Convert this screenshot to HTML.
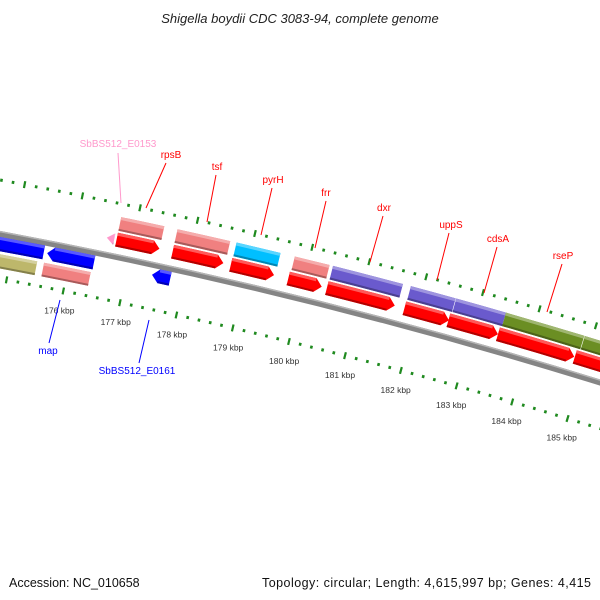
<!DOCTYPE html>
<html><head><meta charset="utf-8"><style>
html,body{margin:0;padding:0;background:#fff;}
svg{display:block;font-family:"Liberation Sans","DejaVu Sans",sans-serif;}
</style></head><body>
<svg id="map" width="600" height="600" viewBox="0 0 600 600" xmlns="http://www.w3.org/2000/svg">
<rect width="600" height="600" fill="#fff"/>
<text x="300" y="23" text-anchor="middle" font-size="13" font-style="italic" fill="#222">Shigella boydii CDC 3083-94, complete genome</text>
<text x="9" y="587" font-size="12.5" fill="#111">Accession: NC_010658</text>
<text x="591" y="587" text-anchor="end" font-size="12.5" fill="#111" textLength="329">Topology: circular; Length: 4,615,997 bp; Genes: 4,415</text>
<g id="ticks"></g>
<g id="backbone"></g>
<g id="features"></g>
<g id="labels"></g>
</svg>
<script>
// data (kbp)
const featStart = [176.72,177.70,178.72,179.73,180.41,181.78,182.56,183.44,184.81, 176.72,177.70,178.73,179.75,180.42,181.79,182.59,183.47,184.87, 176.55, 174.6,175.60,177.44, 174.5,175.58];
const featEnd   = [177.47,178.59,179.48,180.32,181.61,182.57,183.44,184.80,186.2, 177.47,178.62,179.50,180.36,181.65,182.58,183.47,184.86,186.2, 176.68, 175.54,176.42,177.76, 175.46,176.40];
const featTrack = ['r','r','r','r','r','r','r','r','r', 'p','p','p','p','p','p','p','p','p', 'r', 'b','b','b', 'k','k'];
const featColor = ['#ff0000','#ff0000','#ff0000','#ff0000','#ff0000','#ff0000','#ff0000','#ff0000','#ff0000',
 '#f08080','#f08080','#00bfff','#f08080','#6a5acd','#6a5acd','#6a5acd','#6b8e23','#6b8e23','#ff99cc',
 '#0000ff','#0000ff','#0000ff','#bdb76b','#f08080'];
const featDir   = [1,1,1,1,1,1,1,1,1, 0,0,0,0,0,0,0,0,0, -1, 0,-1,-1, 0,0];
const tickMajors = [174,175,176,177,178,179,180,181,182,183,184,185,186];
const tickLabels = ['176 kbp','177 kbp','178 kbp','179 kbp','180 kbp','181 kbp','182 kbp','183 kbp','184 kbp','185 kbp'];
const tickLabelPos = [176,177,178,179,180,181,182,183,184,185];
const labelNames = ['SbBS512_E0153','rpsB','tsf','pyrH','frr','dxr','uppS','cdsA','rseP','map','SbBS512_E0161'];
const labelColors = ['#ff99cc','#ff0000','#ff0000','#ff0000','#ff0000','#ff0000','#ff0000','#ff0000','#ff0000','#0000ff','#0000ff'];

// geometry
const CX=-972, CY=5444, R=5300;
const PHI176 = -78.64*Math.PI/180, DPHI = 0.0110;
const trackOff = {r:17, p:33, b:-10, k:-27};
const NS='http://www.w3.org/2000/svg';
function ang(s){return PHI176+(s-176)*DPHI;}
function P(s,r){const a=ang(s);return [CX+r*Math.cos(a),CY+r*Math.sin(a)];}
function f(p){return p[0].toFixed(2)+' '+p[1].toFixed(2);}
function mk(tag,attrs,parent){const e=document.createElementNS(NS,tag);for(const k in attrs)e.setAttribute(k,attrs[k]);parent.appendChild(e);return e;}
function arcBand(s1,s2,r1,r2){
  return 'M'+f(P(s1,r1))+' A'+r1+' '+r1+' 0 0 1 '+f(P(s2,r1))+' L'+f(P(s2,r2))+' A'+r2+' '+r2+' 0 0 0 '+f(P(s1,r2))+' Z';
}
function shape(s1,s2,rc,w,dir){
  const r1=rc+w/2,r2=rc-w/2,h=0.12;
  if(dir===1){const b=Math.max(s1,s2-h);
    return 'M'+f(P(s1,r1))+' A'+r1+' '+r1+' 0 0 1 '+f(P(b,r1))+' L'+f(P(s2,rc))+' L'+f(P(b,r2))+' A'+r2+' '+r2+' 0 0 0 '+f(P(s1,r2))+' Z';}
  if(dir===-1){const b=Math.min(s2,s1+h);
    return 'M'+f(P(s1,rc))+' L'+f(P(b,r1))+' A'+r1+' '+r1+' 0 0 1 '+f(P(s2,r1))+' L'+f(P(s2,r2))+' A'+r2+' '+r2+' 0 0 0 '+f(P(b,r2))+' Z';}
  return arcBand(s1,s2,r1,r2);
}
function shade(hex,k){const n=parseInt(hex.slice(1),16);let r=n>>16,g=(n>>8)&255,b=n&255;
  if(k>0){r+= (255-r)*k;g+=(255-g)*k;b+=(255-b)*k;}else{r*=1+k;g*=1+k;b*=1+k;}
  return 'rgb('+Math.round(r)+','+Math.round(g)+','+Math.round(b)+')';}

// backbone
const bb=document.getElementById('backbone');
const bbm=mk('path',{d:arcBand(173,187,R+3,R-3),fill:'#858585'},bb);


const bbh=mk('path',{d:arcBand(173,187,R+3,R+1.5),fill:'#b5b5b5'},bb);



// ticks
const tg=document.getElementById('ticks');
for(let i=0;i<tickMajors.length-1;i++){
  for(let j=0;j<5;j++){
    const s=tickMajors[i]+j*0.2;
    [[R+53],[R-44]].forEach(function(row){
      const len=j===0?7:3;
      const a=P(s,row[0]-len/2),b=P(s,row[0]+len/2);
      const t=mk('line',{x1:a[0],y1:a[1],x2:b[0],y2:b[1],stroke:'#1f8a1f','stroke-width':j===0?2.2:2.6},tg);
      
      
    });
  }
}
for(let i=0;i<tickLabels.length;i++){
  const p=P(tickLabelPos[i],R-64);
  const t=mk('text',{x:p[0],y:p[1]+3,'text-anchor':'middle','font-size':'8.5',fill:'#333'},tg);
  t.textContent=tickLabels[i];
  
  
}

// features
const fg=document.getElementById('features');
for(let i=0;i<featStart.length;i++){
  const rc=R+trackOff[featTrack[i]];
  const w=featTrack[i]==='r'&&featDir[i]===-1?11:14;
  const g=mk('g',{},fg);
  
  
  mk('path',{d:shape(featStart[i],featEnd[i],rc,w,featDir[i]),fill:featColor[i]},g);
  const h=0.12;
  let a=featStart[i],b=featEnd[i];
  if(featDir[i]===1)b-=h; if(featDir[i]===-1)a+=h;
  if(b>a){
    mk('path',{d:arcBand(a,b,rc+w/2,rc+w/2-3),fill:shade(featColor[i],0.35)},g);
    mk('path',{d:arcBand(a,b,rc-w/2+2,rc-w/2),fill:shade(featColor[i],-0.3)},g);
  }
}

// labels
const labelXY=[[118,147],[171,158],[217,170],[273,183],[326,196],[384,211],[451,228],[498,242],[563,259],[48,354],[137,374]];
const lineXY=[[118,153,121,203],[166,163,146,208],[216,175,207,222],[272,188,261,235],[326,201,315,248],[383,216,370,262],[449,233,437,280],[497,247,484,293],[562,264,547,312],[49,343,60,300],[139,363,149,320]];
const lg=document.getElementById('labels');
for(let i=0;i<labelNames.length;i++){
  const l=lineXY[i];
  const ln=mk('line',{x1:l[0],y1:l[1],x2:l[2],y2:l[3],stroke:labelColors[i],'stroke-width':1},lg);
  
  
  const t=mk('text',{x:labelXY[i][0],y:labelXY[i][1],'text-anchor':'middle','font-size':'10',fill:labelColors[i]},lg);
  t.textContent=labelNames[i];
  
  
}
</script>
</body></html>
